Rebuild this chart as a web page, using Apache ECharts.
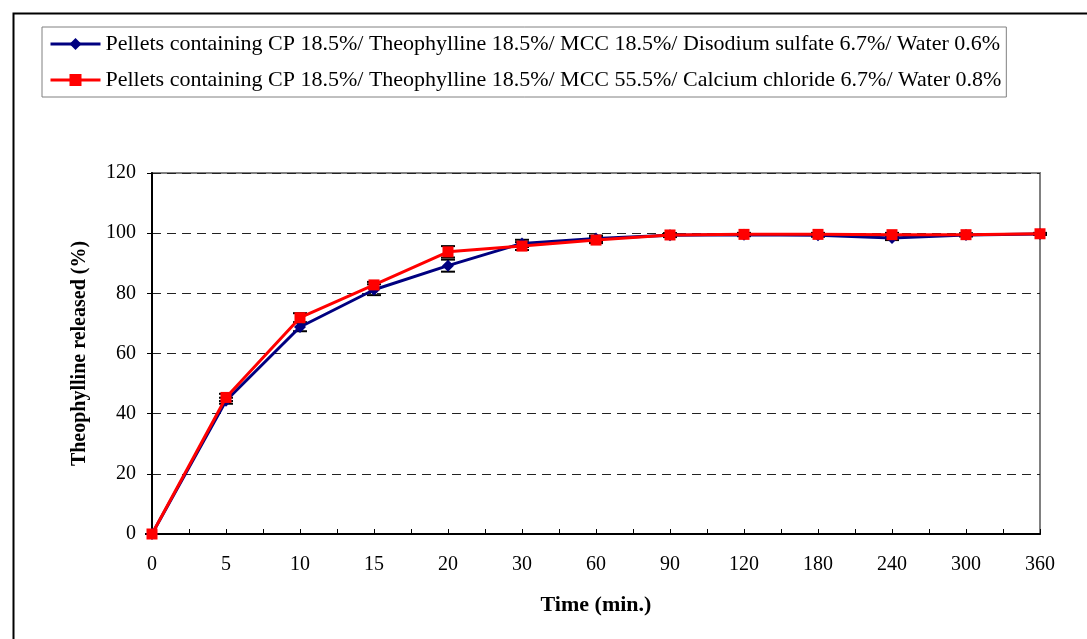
<!DOCTYPE html>
<html>
<head>
<meta charset="utf-8">
<script src="https://cdn.jsdelivr.net/npm/echarts@6/dist/echarts.min.js"></script>
<style>html,body{margin:0;padding:0;background:#fff}#c{width:1087px;height:639px}</style>
</head>
<body>
<div id="c"></div>
<script>
const timeLabels = ['0','5','10','15','20','30','60','90','120','180','240','300','360'];
const nameBlue = 'Pellets containing CP 18.5%/ Theophylline 18.5%/ MCC 18.5%/ Disodium sulfate 6.7%/ Water 0.6%';
const nameRed = 'Pellets containing CP 18.5%/ Theophylline 18.5%/ MCC 55.5%/ Calcium chloride 6.7%/ Water 0.8%';
const blueVals = [0, 44.3, 68.8, 81.2, 89.2, 96.6, 98.2, 99.3, 99.5, 99.3, 98.4, 99.4, 99.7];
const blueErr  = [0, 1.0, 1.4, 1.8, 2.0, 1.2, 1.0, 0.6, 0.5, 0.5, 0.7, 0.5, 0.3];
const redVals  = [0, 45.4, 71.9, 82.8, 93.8, 95.7, 97.7, 99.4, 99.6, 99.6, 99.5, 99.5, 99.8];
const redErr   = [0, 1.2, 1.5, 1.0, 1.9, 1.3, 1.0, 0.6, 0.5, 0.5, 0.6, 0.4, 0.3];

const font = 'Liberation Serif';
const pts = v => v.map((y, i) => [i, y]);
const errData = (v, e) => v.map((y, i) => [i, y - e[i], y + e[i]]);

function errRender(params, api) {
  const x = api.value(0);
  const lo = api.coord([x, api.value(1)]);
  const hi = api.coord([x, api.value(2)]);
  const w = 7;
  const st = {stroke: '#000', lineWidth: 2};
  return {type: 'group', children: [
    {type: 'line', shape: {x1: lo[0], y1: lo[1], x2: hi[0], y2: hi[1]}, style: st},
    {type: 'line', shape: {x1: lo[0]-w, y1: lo[1], x2: lo[0]+w, y2: lo[1]}, style: st},
    {type: 'line', shape: {x1: hi[0]-w, y1: hi[1], x2: hi[0]+w, y2: hi[1]}, style: st}
  ]};
}

const chart = echarts.init(document.getElementById('c'), null, {renderer: 'canvas'});
chart.setOption({
  backgroundColor: '#fff',
  animation: false,
  textStyle: {fontFamily: font, color: '#000'},
  graphic: [{type: 'rect', left: 11, top: 11, shape: {width: 1100, height: 700}, style: {fill: 'none', stroke: '#000', lineWidth: 2}, z: 100}],
  legend: {
    data: [nameBlue, nameRed],
    orient: 'vertical', left: 42, top: 27,
    padding: [6, 5, 6, 7], itemGap: 14,
    itemWidth: 50, itemHeight: 15,
    lineStyle: {width: 3},
    borderColor: '#808080', borderWidth: 1, backgroundColor: '#fff',
    textStyle: {fontFamily: font, fontSize: 22, color: '#000'}
  },
  grid: {left: 152, right: 47, top: 173, bottom: 105, show: true, borderColor: '#808080', borderWidth: 2, backgroundColor: 'transparent'},
  xAxis: {
    type: 'value', min: 0, max: 12, interval: 0.5,
    name: 'Time (min.)', nameLocation: 'middle', nameGap: 60,
    nameTextStyle: {fontFamily: font, fontSize: 22, fontWeight: 'bold', color: '#000'},
    axisLine: {show: true, lineStyle: {color: '#000', width: 2}},
    axisTick: {show: true, inside: true, length: 5, lineStyle: {color: '#000'}},
    axisLabel: {fontFamily: font, fontSize: 20, color: '#000', margin: 21, formatter: v => Number.isInteger(v) ? timeLabels[v] : ''},
    splitLine: {show: false}
  },
  yAxis: {
    type: 'value', min: 0, max: 120, interval: 20,
    name: 'Theophylline released (%)', nameLocation: 'middle', nameGap: 62,
    nameTextStyle: {fontFamily: font, fontSize: 20, fontWeight: 'bold', color: '#000'},
    axisLine: {show: true, lineStyle: {color: '#000', width: 2}},
    axisTick: {show: true, length: 5, lineStyle: {color: '#000'}},
    axisLabel: {fontFamily: font, fontSize: 20, color: '#000', margin: 16},
    splitLine: {show: true, lineStyle: {color: '#222', type: [9, 6], width: 1}}
  },
  series: [
    {type: 'custom', renderItem: errRender, data: errData(blueVals, blueErr), z: 3},
    {type: 'custom', renderItem: errRender, data: errData(redVals, redErr), z: 3},
    {name: nameBlue, type: 'line', data: pts(blueVals), symbol: 'diamond', symbolSize: 12,
     lineStyle: {color: '#000080', width: 3}, itemStyle: {color: '#000080'}, z: 4},
    {name: nameRed, type: 'line', data: pts(redVals), symbol: 'rect', symbolSize: 11,
     lineStyle: {color: '#ff0000', width: 3}, itemStyle: {color: '#ff0000'}, z: 5}
  ]
});
</script>
</body>
</html>
